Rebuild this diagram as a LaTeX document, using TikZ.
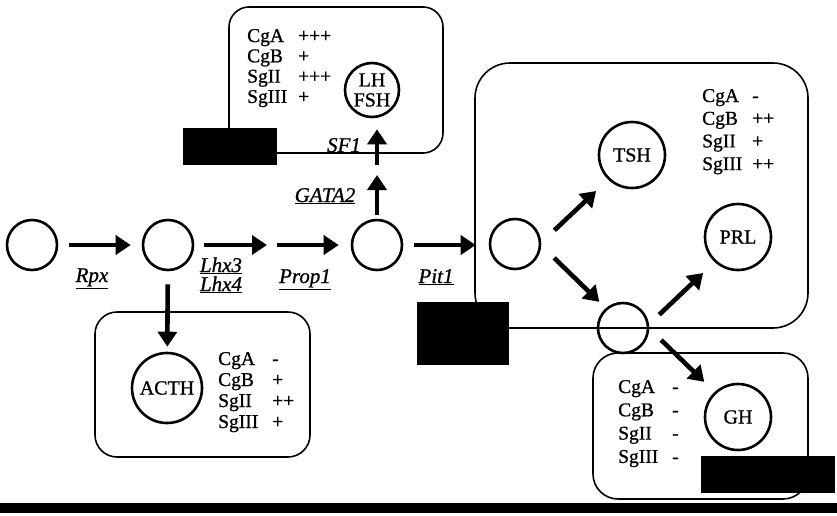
\documentclass[tikz,border=0pt]{standalone}
\usepackage{fontspec}
\setmainfont{Liberation Serif}[FakeBold=0.9, ItalicFeatures={FakeBold=0.9}]
\usetikzlibrary{arrows.meta}
\begin{document}
\begin{tikzpicture}[x=1pt,y=-1pt,
  cell/.style={circle, draw, line width=2.6pt, minimum size=50pt, inner sep=0pt},
  hcell/.style={cell, minimum size=#1, font=\fontsize{20}{20}\selectfont, align=center},
  arr/.style={line width=4.6pt, -{Triangle[length=15pt,width=19pt]}},
  box/.style={line width=1.6pt, rounded corners=#1},
  lbl/.style={font=\fontsize{21}{21}\selectfont\itshape, anchor=base, inner sep=0pt},
  lst/.style={font=\fontsize{19.5}{#1}\selectfont, anchor=base west, inner sep=0pt},
  blk/.style={fill=black}
]
\useasboundingbox (0,0) rectangle (837,515);

% boxes
\draw[box=20pt] (229,7) rectangle (443,153);
\draw[box=22pt] (95,312) rectangle (310,457);
\draw[box=35pt] (475,63) rectangle (808,328);
\draw[box=25pt] (593,353) rectangle (808,499);

% black blocks
\fill[blk] (183,128) rectangle (277,165);
\fill[blk] (417,302) rectangle (509,365);
\fill[blk] (701,456) rectangle (835,493);
\fill[blk] (0,503) rectangle (837,513);

% cells
\node[cell] (c1) at (32,245) {};
\node[cell] (c2) at (168,245) {};
\node[cell] (c3) at (377,245) {};
\node[cell] (c4) at (515,244) {};
\node[cell] (c5) at (623,328) {};
\node[hcell=54pt] (lh) at (372,90) {LH\\FSH};
\node[hcell=70pt] (acth) at (167,388) {ACTH};
\node[hcell=66pt] (tsh) at (632,155) {TSH};
\node[hcell=66pt] (prl) at (738,237) {PRL};
\node[hcell=66pt] (gh) at (738,417) {GH};

\coordinate (m1) at (272,245);
\coordinate (m2) at (377,170);

% arrows
\draw[arr, shorten <=11pt, shorten >=11pt] (c1) -- (c2);
\draw[arr, shorten <=10pt, shorten >=5pt] (c2) -- (m1);
\draw[arr, shorten <=5pt, shorten >=12pt] (m1) -- (c3);
\draw[arr, shorten <=11pt, shorten >=13pt] (c3) -- (c3 -| c4.west);
\draw[arr, shorten <=4pt, shorten >=5pt] (c3) -- (m2);
\draw[arr, shorten <=5pt, shorten >=11pt] (m2) -- (m2 |- lh.south);
\draw[arr, shorten <=13pt, shorten >=5pt] (c2) -- (acth);
\draw[arr, shorten <=18pt, shorten >=16.5pt] (c4.3) -- (tsh.226);
\draw[arr, shorten <=18pt, shorten >=9pt] (c4.-3) -- (c5.131);
\draw[arr, shorten <=14pt, shorten >=15.8pt] (c5.8) -- (prl.227);
\draw[arr, shorten <=16.5pt, shorten >=14.4pt] (c5.-1) -- (gh.133);

% gene labels
\node[lbl] (rpx) at (92,282) {\underline{Rpx}};
\node[lbl] (lhx3) at (221,272) {\underline{Lhx3}};
\node[lbl] (lhx4) at (221,291) {\underline{Lhx4}};
\node[lbl] (prop1) at (305,283) {\underline{Prop1}};
\node[lbl] (pit1) at (436,283) {\underline{Pit1}};
\node[lbl] (gata2) at (325,202) {\underline{GATA2}};
\node[lbl] (sf1) at (344,152) {\underline{SF1}};

% marker lists
\node[lst=20.3pt] (ln1) at (247,42) {\begin{tabular}[t]{@{}l@{}}CgA\\CgB\\SgII\\SgIII\end{tabular}};
\node[lst=20.3pt] (lv1) at (298,42) {\begin{tabular}[t]{@{}l@{}}+++\\+\\+++\\+\end{tabular}};
\node[lst=21pt] (ln2) at (218,365) {\begin{tabular}[t]{@{}l@{}}CgA\\CgB\\SgII\\SgIII\end{tabular}};
\node[lst=21pt] (lv2) at (272,365) {\begin{tabular}[t]{@{}l@{}}-\\+\\++\\+\end{tabular}};
\node[lst=22.7pt] (ln3) at (702,102) {\begin{tabular}[t]{@{}l@{}}CgA\\CgB\\SgII\\SgIII\end{tabular}};
\node[lst=22.7pt] (lv3) at (752,102) {\begin{tabular}[t]{@{}l@{}}-\\++\\+\\++\end{tabular}};
\node[lst=23.3pt] (ln4) at (618,393) {\begin{tabular}[t]{@{}l@{}}CgA\\CgB\\SgII\\SgIII\end{tabular}};
\node[lst=23.3pt] (lv4) at (672,393) {\begin{tabular}[t]{@{}l@{}}-\\-\\-\\-\end{tabular}};
\end{tikzpicture}
\end{document}
